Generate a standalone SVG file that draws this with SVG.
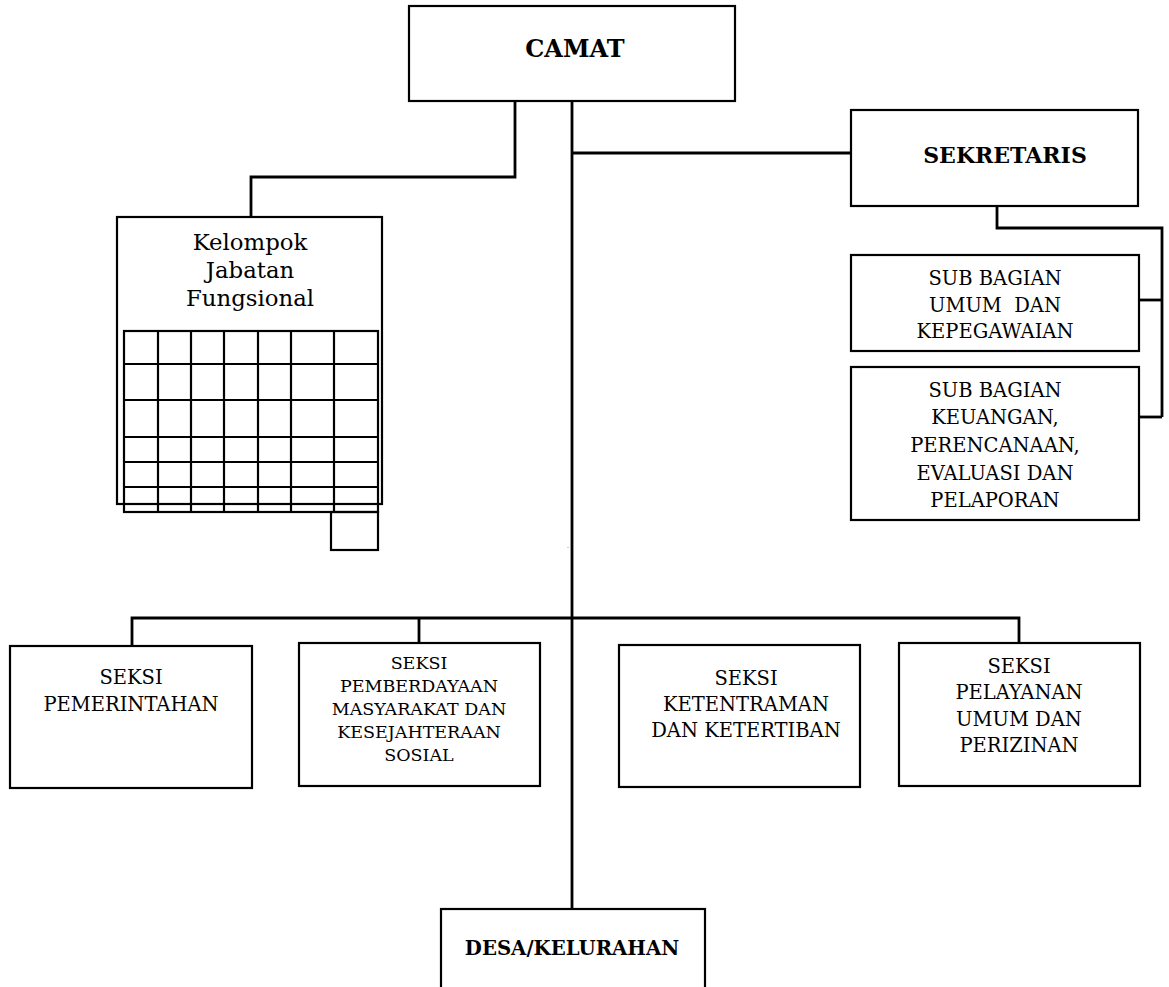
<svg xmlns="http://www.w3.org/2000/svg" width="1169" height="987" viewBox="0 0 1169 987">
<style>
.box{fill:#fff;stroke:#000;stroke-width:2.2}
.ln{fill:none;stroke:#000;stroke-width:2.8}
.grid{fill:none;stroke:#000;stroke-width:2.2}
.t{font-family:"DejaVu Serif","Liberation Serif",serif;fill:#000;text-anchor:middle}
.r{font-size:19.5px}
.s{font-size:17.5px}
.b{font-weight:bold}
</style>
<rect width="1169" height="987" fill="#fff"/>
<g id="connectors">
<path class="ln" d="M515,101 V177 H251 V217"/>
<path class="ln" d="M572,101 V908"/>
<path class="ln" d="M572,153 H851"/>
<path class="ln" d="M997,206 V228 H1162 V417"/>
<path class="ln" d="M1139,300 H1162"/>
<path class="ln" d="M1139,417 H1162"/>
<path class="ln" d="M132,646 V618 H1019 V643"/>
<path class="ln" d="M419,618 V643"/>
</g>
<g id="camat">
<rect class="box" x="409" y="6" width="326" height="95"/>
<text class="t b" x="575" y="57" font-size="24">CAMAT</text>
</g>
<g id="sekretaris">
<rect class="box" x="851" y="110" width="287" height="96"/>
<text class="t b" x="1005" y="163" font-size="22">SEKRETARIS</text>
</g>
<g id="kelompok">
<rect class="box" x="117" y="217" width="265" height="287"/>
<text class="t" x="250" y="250" font-size="22.8">Kelompok</text>
<text class="t" x="250" y="278" font-size="22.8">Jabatan</text>
<text class="t" x="250" y="306" font-size="22.8">Fungsional</text>
<g class="grid">
<rect x="124" y="331" width="254" height="181"/>
<path d="M124,364 H378 M124,400 H378 M124,437 H378 M124,462 H378 M124,487 H378"/>
<path d="M158,331 V512 M191,331 V512 M224,331 V512 M258,331 V512 M291,331 V512 M334,331 V512"/>
<rect x="331" y="512" width="47" height="38"/>
</g>
</g>
<g id="sub-umum">
<rect class="box" x="851" y="255" width="288" height="96"/>
<text class="t r" x="995" y="285">SUB BAGIAN</text>
<text class="t r" x="995" y="312" xml:space="preserve">UMUM  DAN</text>
<text class="t r" x="995" y="338">KEPEGAWAIAN</text>
</g>
<g id="sub-keuangan">
<rect class="box" x="851" y="367" width="288" height="153"/>
<text class="t r" x="995" y="397">SUB BAGIAN</text>
<text class="t r" x="995" y="424">KEUANGAN,</text>
<text class="t r" x="995" y="452">PERENCANAAN,</text>
<text class="t r" x="995" y="480">EVALUASI DAN</text>
<text class="t r" x="995" y="507">PELAPORAN</text>
</g>
<g id="seksi-pemerintahan">
<rect class="box" x="10" y="646" width="242" height="142"/>
<text class="t r" x="131" y="684">SEKSI</text>
<text class="t r" x="131" y="711">PEMERINTAHAN</text>
</g>
<g id="seksi-pemberdayaan">
<rect class="box" x="299" y="643" width="241" height="143"/>
<text class="t s" x="419" y="669">SEKSI</text>
<text class="t s" x="419" y="692">PEMBERDAYAAN</text>
<text class="t s" x="419" y="715">MASYARAKAT DAN</text>
<text class="t s" x="419" y="738">KESEJAHTERAAN</text>
<text class="t s" x="419" y="761">SOSIAL</text>
</g>
<g id="seksi-ketentraman">
<rect class="box" x="619" y="645" width="241" height="142"/>
<text class="t r" x="746" y="685">SEKSI</text>
<text class="t r" x="746" y="711">KETENTRAMAN</text>
<text class="t r" x="746" y="737">DAN KETERTIBAN</text>
</g>
<g id="seksi-pelayanan">
<rect class="box" x="899" y="643" width="241" height="143"/>
<text class="t r" x="1019" y="673">SEKSI</text>
<text class="t r" x="1019" y="699">PELAYANAN</text>
<text class="t r" x="1019" y="726">UMUM DAN</text>
<text class="t r" x="1019" y="752">PERIZINAN</text>
</g>
<g id="desa">
<rect class="box" x="441" y="909" width="264" height="90"/>
<text class="t b" x="572" y="955" font-size="19.7">DESA/KELURAHAN</text>
</g>
<text class="t" x="568" y="548" font-size="6">.</text>
</svg>
